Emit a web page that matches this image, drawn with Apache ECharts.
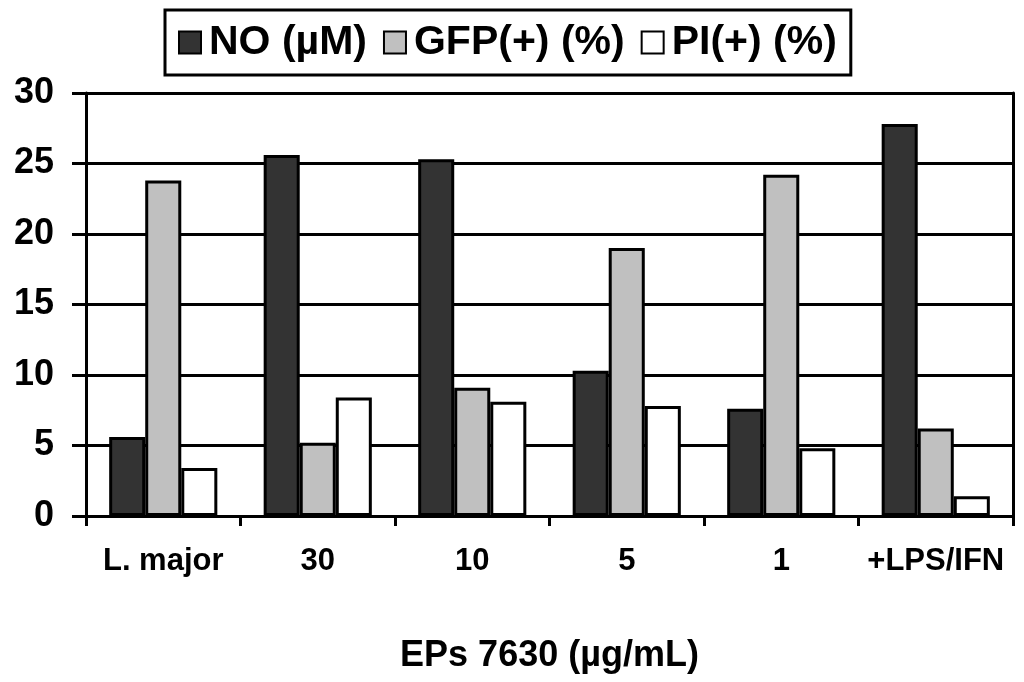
<!DOCTYPE html>
<html>
<head>
<meta charset="utf-8">
<script src="https://cdn.jsdelivr.net/npm/echarts@6/dist/echarts.min.js"></script>
<style>
html,body{margin:0;padding:0;background:#fff;}
#chart{width:1024px;height:682px;}
</style>
</head>
<body>
<div id="chart"></div>
<script>
var categories = ['L. major', '30', '10', '5', '1', '+LPS/IFN'];
var noValues  = [5.6, 25.6, 25.3, 10.3, 7.6, 27.8];
var gfpValues = [23.8, 5.2, 9.1, 19.0, 24.2, 6.2];
var piValues  = [3.4, 8.4, 8.1, 7.8, 4.8, 1.4];
var seriesNames = ['NO (\u00b5M)', 'GFP(+) (%)', 'PI(+) (%)'];
var xAxisTitle = 'EPs 7630 (\u00b5g/mL)';

var FONT = '"Liberation Sans", Arial, sans-serif';
var chart = echarts.init(document.getElementById('chart'));

function barSeries(name, data, color) {
  return {
    name: name,
    type: 'bar',
    data: data,
    barGap: '0%',
    barCategoryGap: '30%',
    itemStyle: { color: color, borderColor: '#000', borderWidth: 3 },
    emphasis: { disabled: true }
  };
}

chart.setOption({
  animation: false,
  backgroundColor: '#fff',
  legend: {
    left: 165,
    top: 10,
    padding: [12, 14, 12, 13],
    itemGap: 16,
    itemWidth: 22,
    itemHeight: 22,
    icon: 'rect',
    borderColor: '#000',
    borderWidth: 3,
    textStyle: { fontSize: 41, fontWeight: 'bold', color: '#000', fontFamily: FONT, padding: [0, 0, 0, 3] },
    data: seriesNames
  },
  grid: { left: 86, right: 11, top: 93, bottom: 166, containLabel: false },
  xAxis: {
    type: 'category',
    data: categories,
    name: xAxisTitle,
    nameLocation: 'middle',
    nameGap: 122,
    nameTextStyle: { fontSize: 36, fontWeight: 'bold', color: '#000', fontFamily: FONT },
    axisLine: { show: true, lineStyle: { color: '#000', width: 3 } },
    axisTick: { show: true, interval: 0, length: 10, lineStyle: { color: '#000', width: 3 } },
    axisLabel: { interval: 0, fontSize: 31, fontWeight: 'bold', color: '#000', fontFamily: FONT, margin: 30 },
    splitLine: { show: false }
  },
  yAxis: [{
    type: 'value',
    min: 0,
    max: 30,
    interval: 5,
    axisLine: { show: true, lineStyle: { color: '#000', width: 3 } },
    axisTick: { show: true, length: 14, lineStyle: { color: '#000', width: 3 } },
    axisLabel: { fontSize: 36, fontWeight: 'bold', color: '#000', fontFamily: FONT, margin: 32 },
    splitLine: { show: true, lineStyle: { color: '#000', width: 3 } }
  }, {
    type: 'value',
    position: 'right',
    min: 0,
    max: 30,
    interval: 5,
    axisLine: { show: true, lineStyle: { color: '#000', width: 3 } },
    axisTick: { show: false },
    axisLabel: { show: false },
    splitLine: { show: false }
  }],
  series: [
    barSeries(seriesNames[0], noValues, '#333333'),
    barSeries(seriesNames[1], gfpValues, '#c0c0c0'),
    barSeries(seriesNames[2], piValues, '#ffffff')
  ]
});
</script>
</body>
</html>
